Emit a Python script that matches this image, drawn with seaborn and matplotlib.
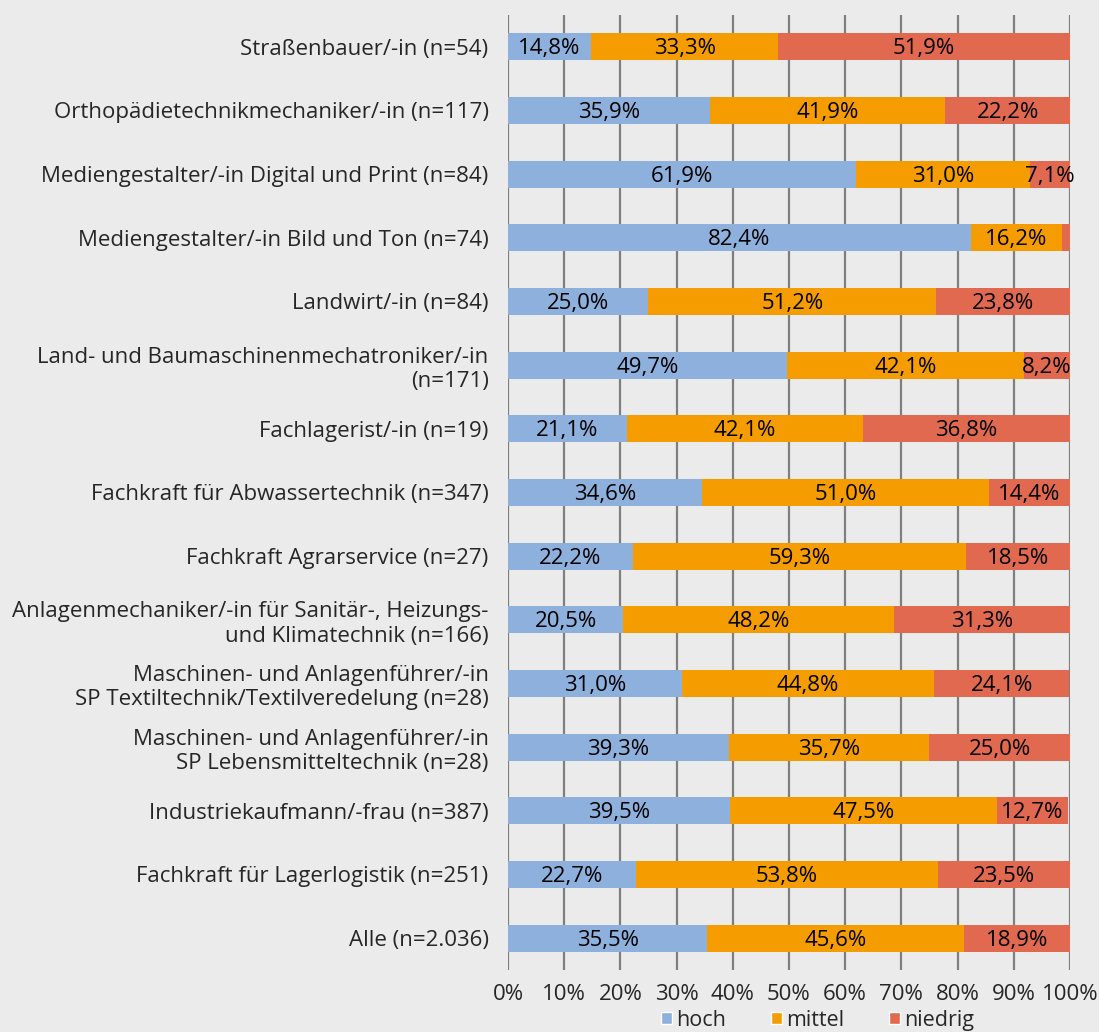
import numpy as np
import pandas as pd
import matplotlib
matplotlib.use("Agg")
import matplotlib.pyplot as plt
import seaborn as sns
from matplotlib.patches import Patch

# Daten (Anteile in %)
berufe = [
    "Straßenbauer/-in (n=54)",
    "Orthopädietechnikmechaniker/-in (n=117)",
    "Mediengestalter/-in Digital und Print (n=84)",
    "Mediengestalter/-in Bild und Ton (n=74)",
    "Landwirt/-in (n=84)",
    "Land- und Baumaschinenmechatroniker/-in\n(n=171)",
    "Fachlagerist/-in (n=19)",
    "Fachkraft für Abwassertechnik (n=347)",
    "Fachkraft Agrarservice (n=27)",
    "Anlagenmechaniker/-in für Sanitär-, Heizungs-\nund Klimatechnik (n=166)",
    "Maschinen- und Anlagenführer/-in\nSP Textiltechnik/Textilveredelung (n=28)",
    "Maschinen- und Anlagenführer/-in\nSP Lebensmitteltechnik (n=28)",
    "Industriekaufmann/-frau (n=387)",
    "Fachkraft für Lagerlogistik (n=251)",
    "Alle (n=2.036)",
]
hoch = [14.8, 35.9, 61.9, 82.4, 25.0, 49.7, 21.1, 34.6, 22.2, 20.5, 31.0, 39.3, 39.5, 22.7, 35.5]
mittel = [33.3, 41.9, 31.0, 16.2, 51.2, 42.1, 42.1, 51.0, 59.3, 48.2, 44.8, 35.7, 47.5, 53.8, 45.6]
niedrig = [51.9, 22.2, 7.1, 1.4, 23.8, 8.2, 36.8, 14.4, 18.5, 31.3, 24.1, 25.0, 12.7, 23.5, 18.9]

farben = {"hoch": "#8DB0DC", "mittel": "#F59D00", "niedrig": "#E0694F"}
bg = "#EBEBEB"

df = pd.DataFrame({"beruf": berufe, "hoch": hoch, "mittel": mittel, "niedrig": niedrig})
df["cum_mittel"] = df["hoch"] + df["mittel"]
df["cum_niedrig"] = df["cum_mittel"] + df["niedrig"]

sns.set_style("white")
plt.rcParams["font.family"] = ["Open Sans", "DejaVu Sans"]

fig = plt.figure(figsize=(10.99, 10.32), dpi=100, facecolor=bg)
ax = fig.add_axes([0.4622, 0.0601, 0.5114, 0.9254])
ax.set_facecolor(bg)

# Gitterlinien hinter den Balken
ax.set_axisbelow(True)
ax.xaxis.grid(True, color="#7F7F7F", linewidth=1.6)

bw = 0.42
for spalte, farbe in [("cum_niedrig", "niedrig"), ("cum_mittel", "mittel"), ("hoch", "hoch")]:
    sns.barplot(data=df, y="beruf", x=spalte, color=farben[farbe], width=bw,
                orient="h", ax=ax, saturation=1, linewidth=0, edgecolor="none")

def fmt(v):
    return f"{v:.1f}%".replace(".", ",")

for i, row in df.iterrows():
    starts = [0, row["hoch"], row["cum_mittel"]]
    vals = [row["hoch"], row["mittel"], row["niedrig"]]
    for s, v in zip(starts, vals):
        if v < 2:
            continue
        ax.text(s + v / 2, i + 0.03, fmt(v), ha="center", va="center", fontsize=16, color="black")

ax.set_xlim(0, 100)
ax.set_ylim(len(berufe) - 0.5, -0.5)
ax.set_xticks(np.arange(0, 101, 10))
ax.set_xticklabels([f"{t}%" for t in range(0, 101, 10)], fontsize=16)
ax.tick_params(axis="x", length=0, pad=10)
ax.tick_params(axis="y", length=0, pad=14, labelsize=16)
ax.set_xlabel("")
ax.set_ylabel("")
for s in ax.spines.values():
    s.set_visible(False)

handles = [Patch(facecolor=farben[k], label=k) for k in ["hoch", "mittel", "niedrig"]]
fig.legend(handles=handles, loc="lower center", bbox_to_anchor=(0.744, 0.0), ncol=3,
           frameon=False, fontsize=15.5, handlelength=0.5, handleheight=0.5,
           handletextpad=0.2, columnspacing=2.1, borderpad=0.05, borderaxespad=0.0)

fig.savefig("out.png", dpi=100, facecolor=bg)
